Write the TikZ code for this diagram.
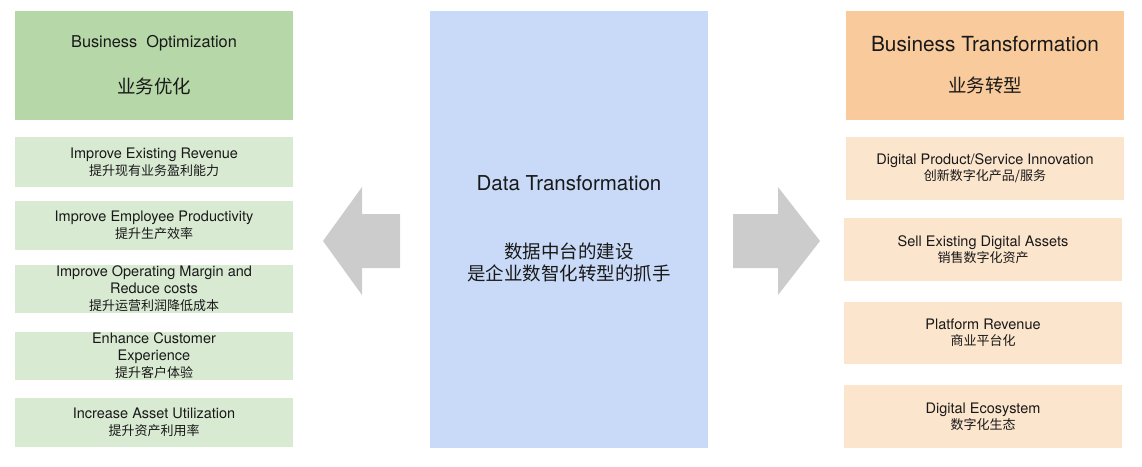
\documentclass[tikz,border=0pt]{standalone}
\usepackage{fontspec}
\setmainfont{TeX Gyre Heros}
\newfontfamily\cjk{Noto Sans CJK SC}
\usetikzlibrary{positioning}
\definecolor{optdark}{HTML}{B6D7A8}
\definecolor{optlight}{HTML}{D9EAD3}
\definecolor{databg}{HTML}{C9DAF8}
\definecolor{trfdark}{HTML}{F9CB9C}
\definecolor{trflight}{HTML}{FCE5CD}
\definecolor{arrowgray}{HTML}{CCCCCC}
\tikzset {
  card/.style = {
    inner sep=0pt,
    outer sep=0pt,
    align=center,
    text=black!90,
    minimum width=278pt
  },
  opt head/.style = {card, fill=optdark, minimum height=109pt},
  opt item/.style = {card, fill=optlight, font=\fontsize{14.5}{17}\selectfont},
  trf head/.style = {card, fill=trfdark, minimum height=109pt},
  trf item/.style = {card, fill=trflight, minimum height=63pt,
    font=\fontsize{14.5}{16}\selectfont},
  block arrow/.style = {fill=arrowgray, draw=none}
}
\newcommand{\zh}[1]{{\cjk\fontsize{13}{17}\selectfont #1}}

\begin{document}
\begin{tikzpicture}[x=1pt, y=-1pt]
\useasboundingbox (0,0) rectangle (1142,466);

% --- Left column ---
\node[opt head] (opt) at (154,65.5)
  {{\fontsize{16.3}{16}\selectfont Business\ \ Optimization}\\[26pt]
   {\cjk\fontsize{18.5}{18}\selectfont 业务优化}};
\node[opt item, minimum height=50pt] (opt1) at (154,162)
  {Improve Existing Revenue\\\zh{提升现有业务盈利能力}};
\node[opt item, minimum height=49pt] (opt2) at (154,225.5)
  {Improve Employee Productivity\\\zh{提升生产效率}};
\node[opt item, minimum height=48pt] (opt3) at (154,289)
  {Improve Operating Margin and\\Reduce costs\\\zh{提升运营利润降低成本}};
\node[opt item, minimum height=48pt] (opt4) at (154,356)
  {Enhance Customer\\Experience\\\zh{提升客户体验}};
\node[opt item, minimum height=49pt] (opt5) at (154,422.5)
  {Increase Asset Utilization\\\zh{提升资产利用率}};

% --- Center ---
\node[card, fill=databg, minimum height=437pt] (data) at (569,229.5) {};
\node[text=black!90] (datatitle) at (569,183)
  {\fontsize{20.5}{20}\selectfont Data Transformation};
\node[text=black!90, align=center, font={\cjk\fontsize{18.5}{22}\selectfont}]
  (datasub) at (569,262) {数据中台的建设\\是企业数智化转型的抓手};

% --- Right column ---
\node[trf head] (trf) at (985,65.5)
  {{\fontsize{20.8}{20}\selectfont Business Transformation}\\[24pt]
   {\cjk\fontsize{18.5}{18}\selectfont 业务转型}};
\node[trf item] (trf1) at (985,168.5)
  {Digital Product/Service Innovation\\\zh{创新数字化产品/服务}};
\node[trf item] (trf2) at (983,249.5)
  {Sell Existing Digital Assets\\\zh{销售数字化资产}};
\node[trf item, minimum height=62pt] (trf3) at (983,333)
  {Platform Revenue\\\zh{商业平台化}};
\node[trf item] (trf4) at (983,416.5)
  {Digital Ecosystem\\\zh{数字化生态}};

% --- Arrows ---
\fill[block arrow] (323,241) -- (362,187) -- (362,214) -- (400,214)
  -- (400,268) -- (362,268) -- (362,295) -- cycle;
\fill[block arrow] (820,241) -- (778,187) -- (778,214) -- (733,214)
  -- (733,268) -- (778,268) -- (778,295) -- cycle;

\end{tikzpicture}
\end{document}
